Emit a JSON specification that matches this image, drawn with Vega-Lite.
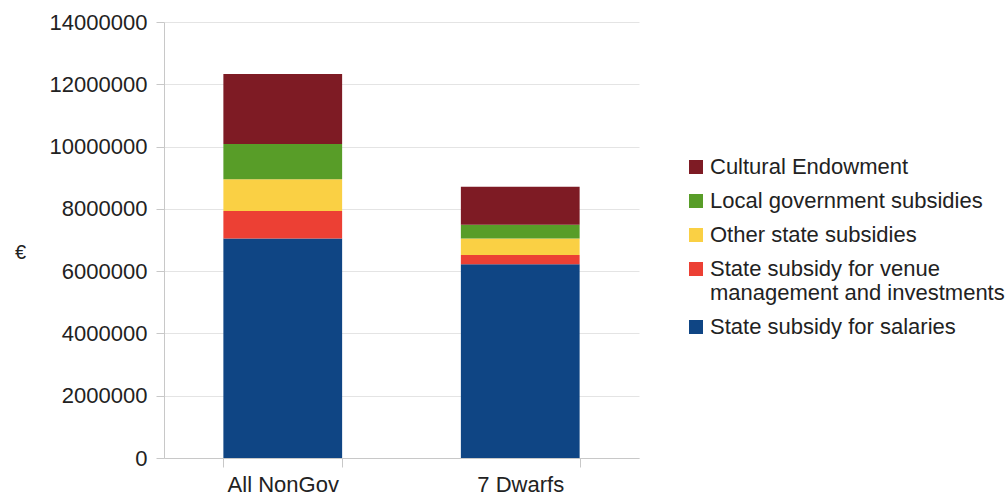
{
  "$schema": "https://vega.github.io/schema/vega-lite/v6.json",
  "width": 475,
  "height": 436,
  "autosize": {"type": "none"},
  "padding": {"left": 164, "top": 22, "right": 369, "bottom": 37},
  "background": "white",
  "config": {
    "font": "Liberation Sans",
    "view": {"stroke": null},
    "axis": {
      "labelFont": "Liberation Sans",
      "labelFontSize": 22,
      "labelColor": "#222222",
      "titleFont": "Liberation Sans",
      "titleColor": "#222222",
      "domainColor": "#c8c8c8",
      "tickColor": "#c8c8c8",
      "gridColor": "#e4e4e4"
    },
    "legend": {
      "labelFont": "Liberation Sans",
      "labelFontSize": 22,
      "labelColor": "#222222"
    }
  },
  "data": {
    "values": [
      {"group": "All NonGov", "category": "State subsidy for salaries", "rank": 1, "value": 7050000},
      {"group": "All NonGov", "category": "State subsidy for venue management and investments", "rank": 2, "value": 880000},
      {"group": "All NonGov", "category": "Other state subsidies", "rank": 3, "value": 1020000},
      {"group": "All NonGov", "category": "Local government subsidies", "rank": 4, "value": 1130000},
      {"group": "All NonGov", "category": "Cultural Endowment", "rank": 5, "value": 2250000},
      {"group": "7 Dwarfs", "category": "State subsidy for salaries", "rank": 1, "value": 6220000},
      {"group": "7 Dwarfs", "category": "State subsidy for venue management and investments", "rank": 2, "value": 300000},
      {"group": "7 Dwarfs", "category": "Other state subsidies", "rank": 3, "value": 530000},
      {"group": "7 Dwarfs", "category": "Local government subsidies", "rank": 4, "value": 440000},
      {"group": "7 Dwarfs", "category": "Cultural Endowment", "rank": 5, "value": 1220000}
    ]
  },
  "mark": {"type": "bar"},
  "encoding": {
    "x": {
      "field": "group",
      "type": "nominal",
      "sort": ["All NonGov", "7 Dwarfs"],
      "scale": {"paddingInner": 0.5, "paddingOuter": 0.25},
      "axis": {
        "title": null,
        "labelAngle": 0,
        "tickBand": "extent",
        "tickSize": 9,
        "labelPadding": 7,
        "grid": false
      }
    },
    "y": {
      "field": "value",
      "type": "quantitative",
      "stack": "zero",
      "scale": {"domain": [0, 14000000], "nice": false},
      "axis": {
        "values": [0, 2000000, 4000000, 6000000, 8000000, 10000000, 12000000, 14000000],
        "format": "d",
        "tickSize": 8,
        "labelPadding": 9,
        "title": "€",
        "titleAngle": 0,
        "titleFontSize": 20,
        "titleFontWeight": "normal",
        "titleAlign": "center",
        "titleBaseline": "middle",
        "titleX": -144,
        "titleY": 230
      }
    },
    "color": {
      "field": "category",
      "type": "nominal",
      "scale": {
        "domain": ["Cultural Endowment", "Local government subsidies", "Other state subsidies", "State subsidy for venue management and investments", "State subsidy for salaries"],
        "range": ["#7e1b24", "#589d28", "#fad044", "#ec4034", "#0f4584"]
      },
      "legend": {
        "title": null,
        "orient": "none",
        "legendX": 521,
        "legendY": 134,
        "symbolType": "square",
        "symbolSize": 196,
        "symbolStrokeWidth": 0,
        "symbolOpacity": 1,
        "labelOffset": 3,
        "rowPadding": 12,
        "labelLimit": 400,
        "labelExpr": "datum.label == 'State subsidy for venue management and investments' ? ['State subsidy for venue', 'management and investments'] : datum.label"
      }
    },
    "order": {"field": "rank", "type": "quantitative", "sort": "ascending"}
  }
}
